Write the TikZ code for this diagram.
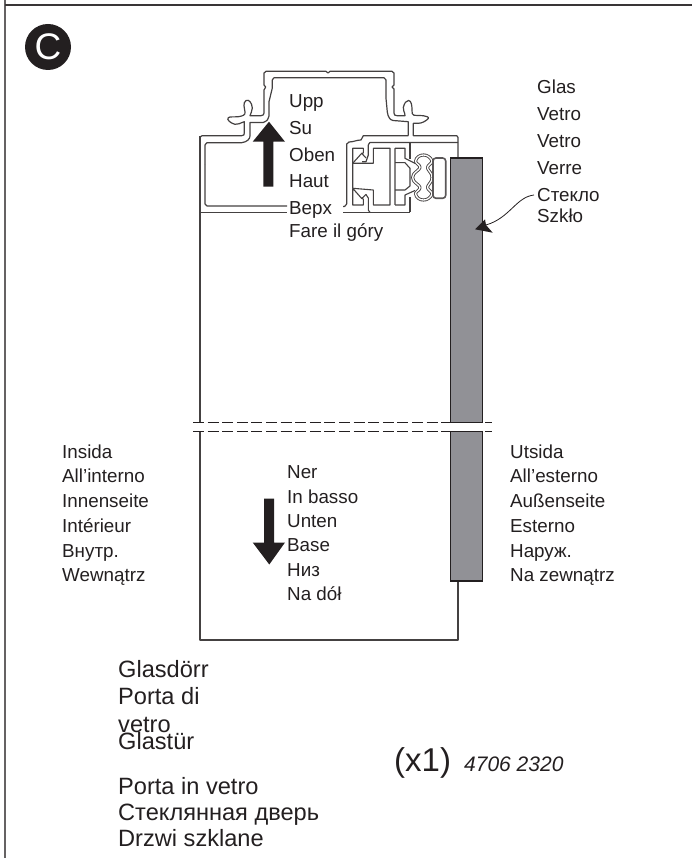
\documentclass[tikz,border=0pt]{standalone}
\usepackage{fontspec}
\setmainfont{Liberation Sans}
\usetikzlibrary{arrows.meta}
\definecolor{ink}{RGB}{35,31,32}
\definecolor{glassgray}{RGB}{145,145,150}
\tikzset{
  txt/.style={anchor=base west,inner sep=0pt,text=ink,font=\fontsize{18.8}{20}\selectfont},
  big/.style={anchor=base west,inner sep=0pt,text=ink,font=\fontsize{23.6}{24}\selectfont},
  prof/.style={draw=ink!85,line width=1.2pt,line join=round},
  pthin/.style={draw=ink!85,line width=1.1pt,line join=round},
  frameline/.style={draw=ink!70,line width=1.5pt},
  brk/.style={draw=ink,line width=1.1pt,dash pattern=on 11pt off 3.6pt},
  blockarrow/.style={fill=ink,draw=none}
}
\begin{document}
\begin{tikzpicture}[x=1pt,y=-1pt]
\useasboundingbox (0,0) rectangle (692,858);
% page frame
\draw[frameline] (5,0) -- (5,858);
\draw[frameline,draw=ink!90] (5,5) -- (692,5);
% badge
\node[circle,fill=ink,minimum size=46pt,inner sep=0pt,text=white,font=\fontsize{37}{38}\selectfont] (badge) at (48,47) {C};
% door body
\draw[prof] (200,136) -- (200,422.7);
\draw[prof] (200,431.7) -- (200,640) -- (458,640) -- (458,575);
\draw[prof] (200,212.7) -- (287,212.7);
\draw[prof] (343,212.3) -- (410,212.3);
% top profile outer
\draw[prof] (200,137) to[out=-90,in=180] (202,135.7) -- (241.7,135.7) .. controls (244,135.7) and (244.3,134.5) .. (244.3,133)
 -- (244.3,121.7) .. controls (240,123) and (238,125) .. (235,124.3)
 .. controls (231,123.5) and (226,119.5) .. (228.3,117.7) .. controls (230,116.3) and (234,117.2) .. (238.3,116.7)
 .. controls (243,116) and (245.5,115) .. (245,112) .. controls (244.5,108) and (242.5,103) .. (246,100.5)
 .. controls (249,99) and (252,103) .. (252.3,108) .. controls (252.5,111) and (250.5,113) .. (250,115.7)
 -- (261,115.7) .. controls (263,115.7) and (264,114.5) .. (264,113) -- (264,90) -- (265.7,87) -- (264,85) -- (264,73) to[out=-90,in=180] (266,71.3)
 -- (326,71.3) -- (328,73) -- (330,71.3) -- (392,71.3) to[out=0,in=-90] (394,73)
 -- (394,85) -- (392,87) -- (394,89) -- (394,113) .. controls (394,115) and (395,115.7) .. (397,115.7) -- (405,115.7)
 .. controls (405,112) and (402.5,110) .. (403.3,107.5) .. controls (404.5,103) and (406,100.5) .. (408.5,100.5)
 .. controls (411.5,100.5) and (412,106) .. (412,110) .. controls (412,113) and (412,115) .. (414,115.3)
 -- (423.3,115.7) .. controls (426,116.3) and (429.5,117) .. (428.3,118.5) .. controls (426,121) and (422,123.3) .. (418.3,123.3)
 -- (413.3,123.3) -- (413.3,135.7) -- (456.7,135.7) to[out=0,in=-90] (458,137.5) -- (458,160);
% top profile inner
\draw[prof] (205,165) -- (205,145) to[out=-90,in=180] (207,142.7) -- (241.7,142.7) .. controls (247,142) and (250,139) .. (250,136)
 -- (250,122.5) -- (263.3,122.5) .. controls (267,121) and (269,119) .. (269,116) -- (269,101.7) -- (272.3,88) -- (272.3,80) to[out=-90,in=180] (274,77.8)
 -- (384,77.8) to[out=0,in=-90] (386,80) -- (386,98.3) -- (387.3,112) .. controls (388,117) and (390,120) .. (393,120.5)
 -- (408.3,121.7) -- (408.3,135.7);
\draw[prof] (205,165) -- (205,204) to[out=90,in=180] (207,206) -- (287,206);
% head profile
\draw[prof] (408.3,135.7) -- (363.3,135.7) -- (361,140) to[out=180,in=0] (349,142) to[out=180,in=-90] (346.7,144) -- (346.7,204) to[out=90,in=0] (344.5,206.5) -- (343,206.5);
\draw[prof] (458,142.5) -- (370,142.5) to[out=180,in=-90] (368.3,145) -- (368.3,155) -- (366,161.7) -- (362,161.7);
% jaws
\draw[pthin] (361.7,153.3) -- (352.7,163.3);
\draw[pthin] (352.7,163.3) -- (352.7,148.3) -- (363.3,148.3) -- (363.3,153) -- (361.7,153.3) -- (366,158);
\draw[pthin] (352.7,188.3) -- (352.7,205) -- (363.3,205) -- (363.3,199) -- (361.7,198.5) -- (352.7,188.3);
\draw[pthin] (361.7,198.5) -- (366,194.5) -- (368.3,198) -- (368.3,210) to[out=90,in=180] (370,212.3);
% T-shaped central piece
\draw[pthin] (373.3,148.3) -- (390,148.3) -- (390,205) -- (373.3,205) -- (373.3,190) -- (352.7,188.3) -- (352.7,163.3) -- (373.3,163.3) -- cycle;
% right piece
\draw[pthin] (395,205) -- (395,148.3) -- (405,148.3) -- (405,158.3) -- (415,163.3);
\draw[pthin] (395,162.7) -- (405,162.7) -- (410,168.3) -- (410,186) -- (405,190) -- (395,190);
\draw[pthin] (395,205) -- (405,205) -- (405,195) -- (415,190.5);
\draw[pthin] (410,142.5) -- (410,159.5);
\draw[pthin] (410,212.3) -- (410,197.5);
% gasket
\draw[draw=ink!85,line width=.9pt,double=white,double distance=1.3pt,line join=round,shift={(423.5,177.5)}]
 plot[smooth cycle,tension=.6] coordinates {(0,-22.5) (5,-21) (8.5,-16) (4,-10) (8,-3) (8,3) (4,10) (8.5,16) (5,21) (0,22.5) (-5,21) (-8,16) (-3.5,10) (-10,3) (-10,-3) (-3.5,-10) (-8,-16) (-5,-21)};
\draw[draw=ink!75,line width=1.6pt,rounded corners=3pt] (433,158) rectangle (445.7,198.3);
% glass
\path[fill=glassgray,draw=ink,line width=1.2pt] (450.5,158) rectangle (482.7,422.7);
\path[fill=glassgray,draw=ink,line width=1.2pt] (450.5,431.7) rectangle (482.7,581);
% break lines
\draw[brk] (193,422.7) -- (492,422.7);
\draw[brk] (193,431.7) -- (492,431.7);
% arrows
\path[blockarrow] (269,121.7) -- (285,141.7) -- (273.3,141.7) -- (273.3,186.7) -- (263.3,186.7) -- (263.3,141.7) -- (252.7,141.7) -- cycle;
\path[blockarrow] (269.3,564.5) -- (285,542.5) -- (274,542.5) -- (274,498.5) -- (264,498.5) -- (264,542.5) -- (252.7,542.5) -- cycle;
% upper centre labels
\node[txt] (u1) at (289,108) {Upp};
\node[txt] (u2) at (289,135) {Su};
\node[txt] (u3) at (289,162) {Oben};
\node[txt] (u4) at (289,188) {Haut};
\node[txt] (u5) at (289,215) {Bepx};
\node[txt] (u6) at (289,238) {Fare il góry};
% glass labels
\node[txt] (g1) at (537,94) {Glas};
\node[txt] (g2) at (537,121) {Vetro};
\node[txt] (g3) at (537,148) {Vetro};
\node[txt] (g4) at (537,175) {Verre};
\node[txt] (g5) at (537,202) {Стекло};
\node[txt] (g6) at (537,223) {Szkło};
% leader
\coordinate (lstart) at (534,195);
\coordinate (ltip) at (475,229.3);
\draw[ink,line width=.8pt] (lstart) .. controls (516,197) and (510,218) .. (486,225);
\path[blockarrow] (ltip) -- (485,219.3) -- (486,225) -- (492.7,232.7) -- cycle;
% inside labels
\node[txt] (i1) at (62,458) {Insida};
\node[txt] (i2) at (62,482) {All'interno};
\node[txt] (i3) at (62,507) {Innenseite};
\node[txt] (i4) at (62,532) {Intérieur};
\node[txt] (i5) at (62,557) {Внутр.};
\node[txt] (i6) at (62,581) {Wewnątrz};
% down labels
\node[txt] (d1) at (287,478) {Ner};
\node[txt] (d2) at (287,503) {In basso};
\node[txt] (d3) at (287,527) {Unten};
\node[txt] (d4) at (287,551) {Base};
\node[txt] (d5) at (287,576.5) {Низ};
\node[txt] (d6) at (287,600) {Na dół};
% outside labels
\node[txt] (o1) at (510,458) {Utsida};
\node[txt] (o2) at (510,482) {All'esterno};
\node[txt] (o3) at (510,507) {Außenseite};
\node[txt] (o4) at (510,532) {Esterno};
\node[txt] (o5) at (510,557) {Наруж.};
\node[txt] (o6) at (510,581) {Na zewnątrz};
% title block
\node[big] (t1) at (118,677) {Glasdörr};
\node[big] (t2) at (118,704) {Porta di};
\node[big] (t3) at (118,732) {vetro};
\node[big] (t4) at (118,749) {Glastür};
\node[big] (t5) at (118,794) {Porta in vetro};
\node[big] (t6) at (118,820) {Стеклянная дверь};
\node[big] (t7) at (118,846) {Drzwi szklane};
% part number
\node[anchor=base west,inner sep=0pt,text=ink,font=\fontsize{33}{34}\selectfont] (qty) at (394,771) {(x1)};
\node[anchor=base west,inner sep=0pt,text=ink,font=\fontsize{21}{22}\selectfont\itshape] (pn) at (464,771) {4706 2320};
\end{tikzpicture}
\end{document}
